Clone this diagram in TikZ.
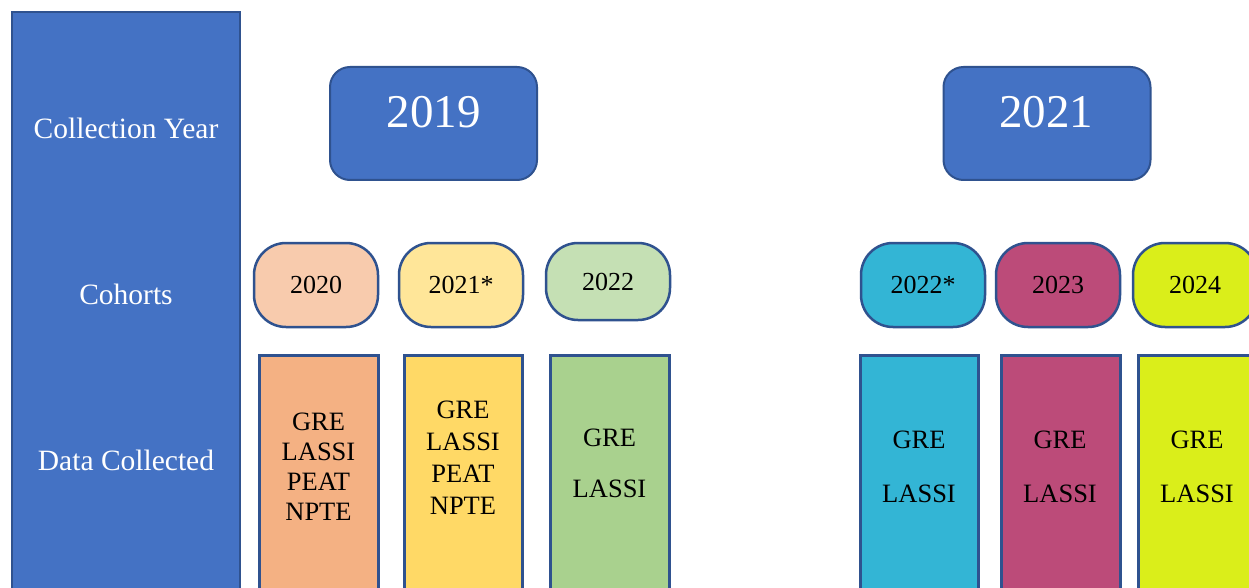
\documentclass[tikz,border=0pt]{standalone}
\usepackage{fontspec}
\setmainfont{Liberation Serif}
\definecolor{panelblue}{HTML}{4472C4}
\definecolor{edgeblue}{HTML}{2F528F}
\definecolor{pillA}{HTML}{F8CBAD}
\definecolor{boxA}{HTML}{F4B183}
\definecolor{pillB}{HTML}{FFE699}
\definecolor{boxB}{HTML}{FFD966}
\definecolor{pillC}{HTML}{C5E0B4}
\definecolor{boxC}{HTML}{A9D18E}
\definecolor{cyanD}{HTML}{33B5D5}
\definecolor{roseE}{HTML}{BC4B79}
\definecolor{limeF}{HTML}{DAEE1A}
\begin{document}
\begin{tikzpicture}[x=1pt,y=-1pt,
  panel/.style={draw=edgeblue,line width=1.4pt,fill=panelblue,inner sep=0pt,outer sep=0pt},
  yearbox/.style={draw=edgeblue,line width=2pt,fill=panelblue,rounded corners=20pt,
    minimum width=207pt,minimum height=113pt,inner sep=0pt},
  yeartext/.style={text=white,inner sep=0pt,font=\fontsize{47}{50}\selectfont},
  pill/.style={draw=edgeblue,line width=2.5pt,rounded corners=32pt,
    minimum width=124pt,minimum height=84pt,inner sep=0pt,
    font=\fontsize{26}{30}\selectfont},
  databox/.style={draw=edgeblue,line width=3pt,inner sep=0pt,outer sep=0pt},
  datatext/.style={align=center,inner sep=0pt,font=\fontsize{26.5}{30}\selectfont},
  rowlabel/.style={text=white,inner sep=0pt,font=\fontsize{29.5}{32}\selectfont}]
\useasboundingbox (0,0) rectangle (1249,588);
\clip (0,0) rectangle (1249,588);
\fill[white] (0,0) rectangle (1249,588);
% left panel
\draw[panel] (12,12) rectangle (240,600);
\node[rowlabel] (lblyear) at (126,128) {Collection Year};
\node[rowlabel] (lblcoh) at (126,294) {Cohorts};
\node[rowlabel] (lbldata) at (126,460) {Data Collected};
% year boxes
\node[yearbox] (y2019) at (433.5,123.5) {};
\node[yeartext] (t2019) at (433.5,112) {2019};
\node[yearbox] (y2021) at (1047,123.5) {};
\node[yeartext] (t2021) at (1046,112) {2021};
% cohort pills
\node[pill,fill=pillA] (c2020) at (316,285) {2020};
\node[pill,fill=pillB] (c2021) at (461,285) {2021*};
\node[pill,fill=pillC,minimum height=77pt] (c2022) at (608,281.5) {2022};
\node[pill,fill=cyanD] (c2022s) at (923,285) {2022*};
\node[pill,fill=roseE] (c2023) at (1058,285) {2023};
\node[pill,fill=limeF] (c2024) at (1195,285) {2024};
% data boxes
\draw[databox,fill=boxA] (259,355) rectangle (378,600);
\draw[databox,fill=boxB] (404,355) rectangle (522,600);
\draw[databox,fill=boxC] (550,355) rectangle (669,600);
\draw[databox,fill=cyanD] (860,355) rectangle (978,600);
\draw[databox,fill=roseE] (1001,355) rectangle (1120,600);
\draw[databox,fill=limeF] (1138,355) rectangle (1260,600);
% data texts
\node[datatext] (d2020) at (318.5,467) {GRE\\LASSI\\PEAT\\NPTE};
\node[datatext,font=\fontsize{26.5}{32}\selectfont] (d2021) at (463,458) {GRE\\LASSI\\PEAT\\NPTE};
\node[datatext,font=\fontsize{26.5}{51}\selectfont] (d2022) at (609.5,463) {GRE\\LASSI};
\node[datatext,font=\fontsize{26.5}{54}\selectfont] (d2022s) at (919,467) {GRE\\LASSI};
\node[datatext,font=\fontsize{26.5}{54}\selectfont] (d2023) at (1060,467) {GRE\\LASSI};
\node[datatext,font=\fontsize{26.5}{54}\selectfont] (d2024) at (1197,467) {GRE\\LASSI};
\end{tikzpicture}
\end{document}
